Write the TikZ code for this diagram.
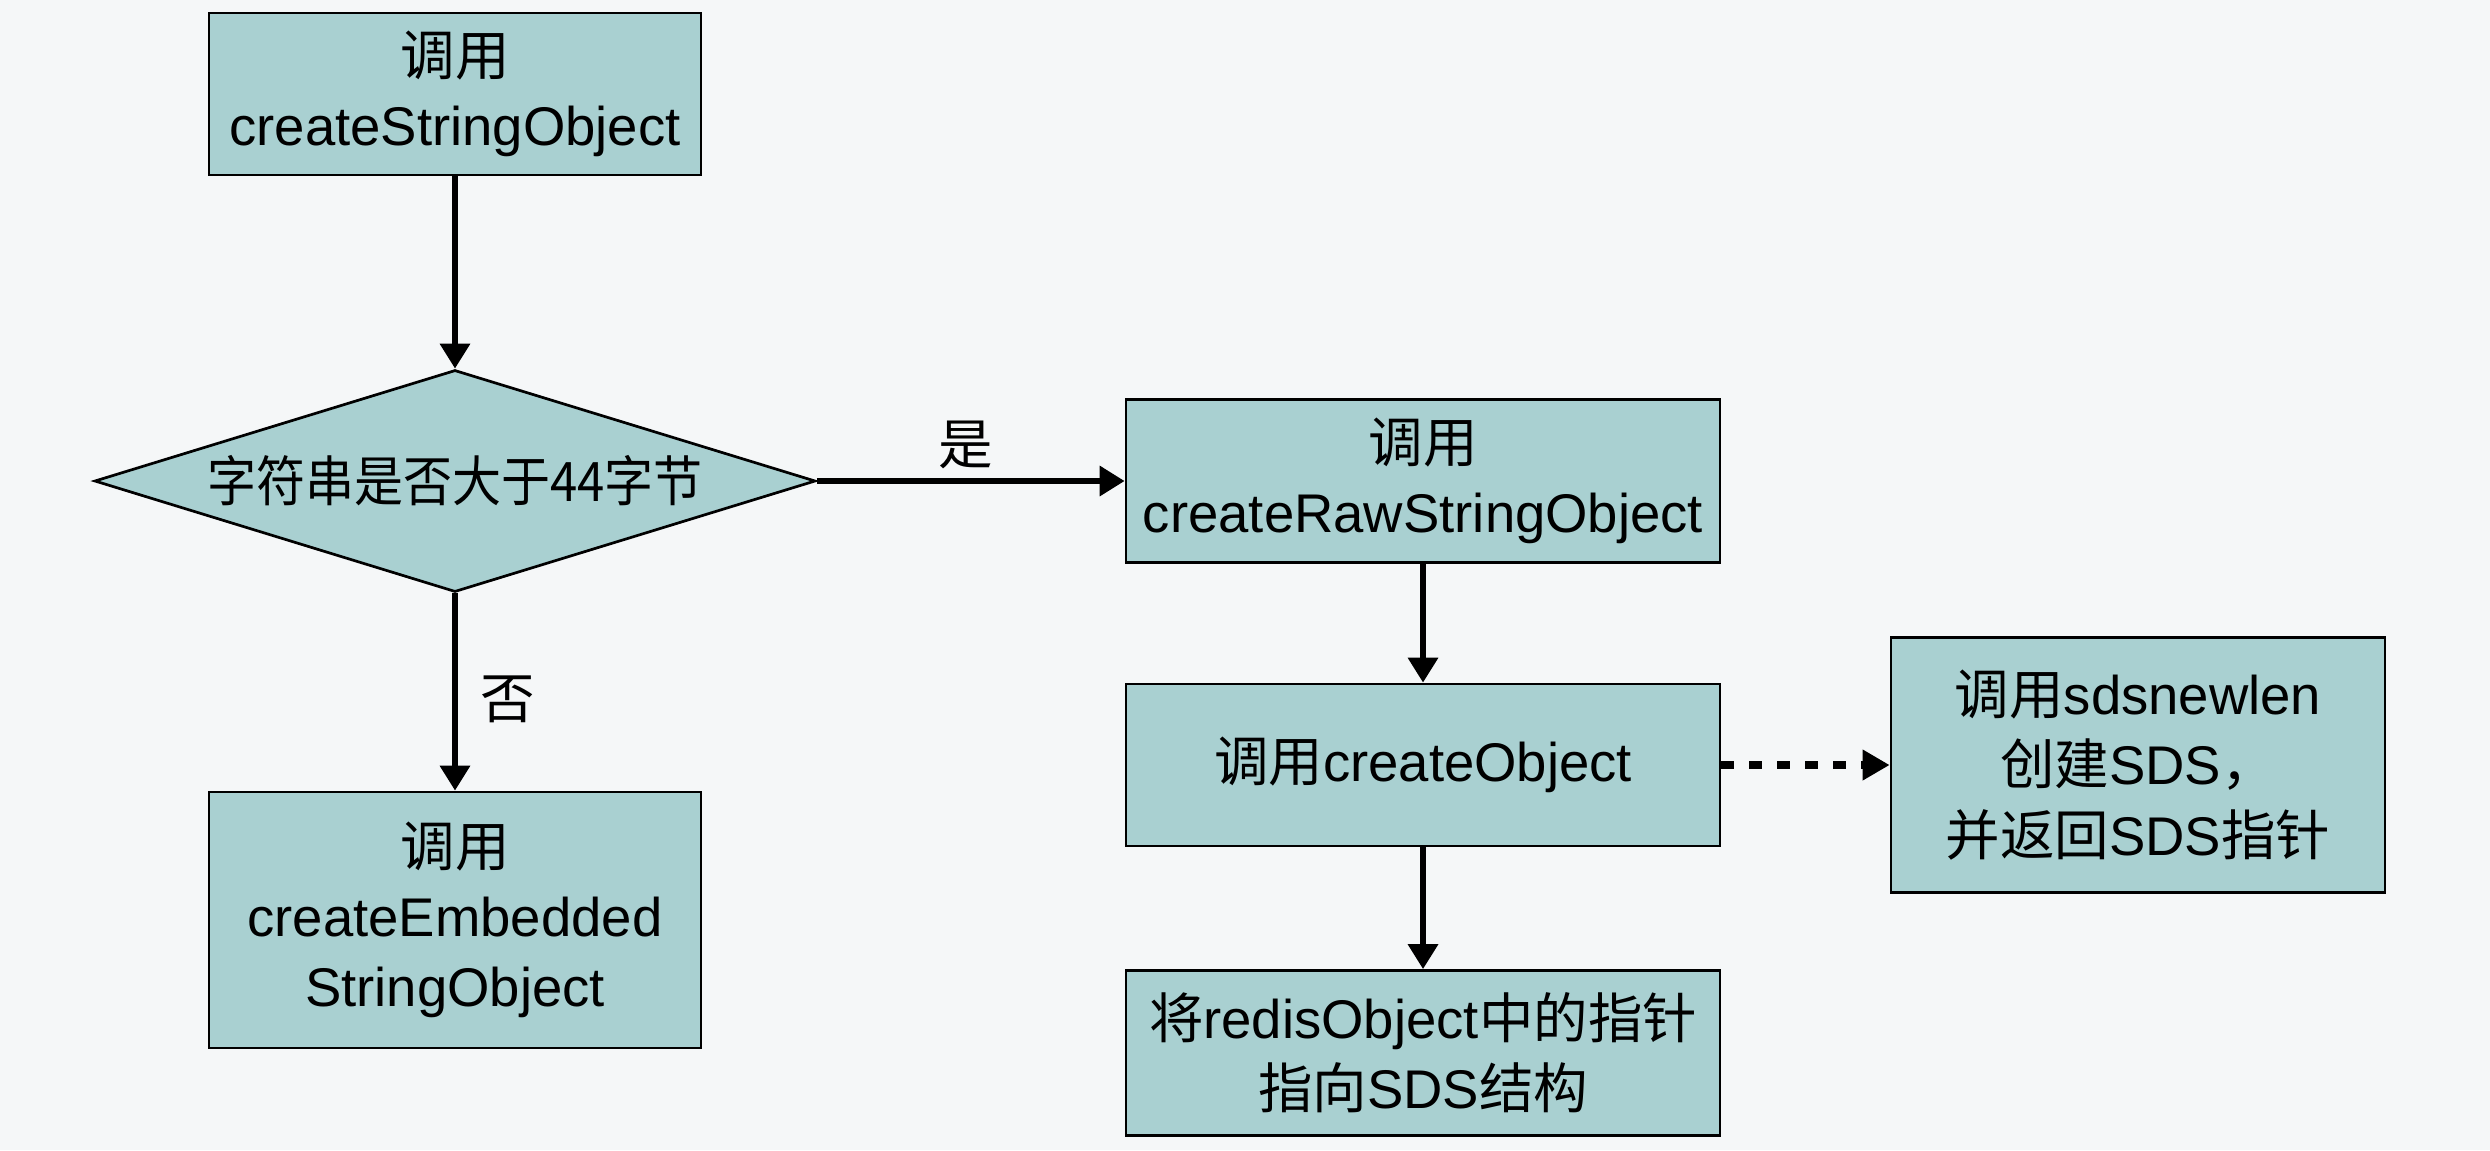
\documentclass[tikz,border=0pt]{standalone}
\usepackage{fontspec}
\setmainfont{Liberation Sans}
\newfontfamily\cjk{Noto Sans CJK SC}
\usetikzlibrary{shapes.geometric,arrows.meta}
\definecolor{bgc}{RGB}{245,247,248}
\definecolor{boxfill}{RGB}{169,208,209}
\begin{document}
\begin{tikzpicture}[x=0.1mm,y=-0.1mm,
  every node/.style={font=\fontsize{15.5pt}{20pt}\selectfont},
  box/.style={draw=black, fill=boxfill, line width=0.27mm, align=center, inner sep=0pt, minimum width=49.2mm},
  decision/.style={draw=black, fill=boxfill, line width=0.27mm, shape=diamond, aspect=3.25, inner sep=0pt, minimum width=72.1mm, minimum height=22.2mm},
  arr/.style={line width=0.65mm, -{Triangle[length=2.5mm,width=2.9mm]}},
  dasharr/.style={line width=0.8mm, dash pattern=on 1.3mm off 1.5mm, -{Triangle[length=2.7mm,width=2.9mm]}},
  lbl/.style={inner sep=0pt}
]
\useasboundingbox[fill=bgc] (0,0) rectangle (2490,1150);

\node[box, minimum height=16.2mm] (start) at (455,94) {{\cjk 调用}\\createStringObject};
\node[decision] (dec) at (455,481) {\scalebox{0.9}[1]{\cjk 字符串是否大于44字节}};
\node[box, minimum height=25.6mm] (emb) at (455,920) {{\cjk 调用}\\createEmbedded\\StringObject};
\node[box, minimum width=59.4mm, minimum height=16.3mm] (raw) at (1423,481) {{\cjk 调用}\\createRawStringObject};
\node[box, minimum width=59.4mm, minimum height=16.2mm] (obj) at (1423,765) {{\cjk 调用}createObject};
\node[box, minimum width=49.4mm, minimum height=25.5mm] (sds) at (2138,765) {{\cjk 调用}sdsnewlen\\{\cjk 创建}SDS{\cjk ，}\\{\cjk 并返回}SDS{\cjk 指针}};
\node[box, minimum width=59.4mm, minimum height=16.5mm] (red) at (1423,1053) {{\cjk 将}redisObject{\cjk 中的指针}\\{\cjk 指向}SDS{\cjk 结构}};

\node[lbl] (yes) at (966,445) {\cjk 是};
\node[lbl] (no) at (508,699) {\cjk 否};

\draw[arr] (start) -- (dec);
\draw[arr] (dec) -- (emb);
\draw[arr] (dec) -- (raw);
\draw[arr] (raw) -- (obj);
\draw[arr] (obj) -- (red);
\draw[dasharr] (obj) -- (sds);
\end{tikzpicture}
\end{document}
